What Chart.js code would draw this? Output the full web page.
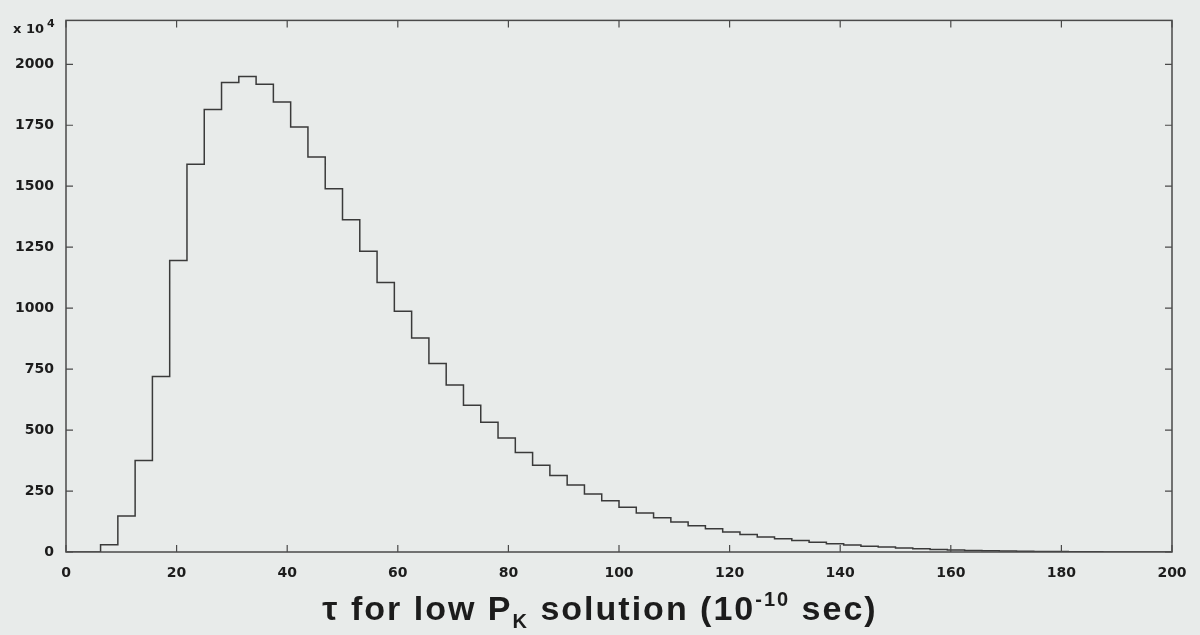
<!DOCTYPE html>
<html>
<head>
<meta charset="utf-8">
<script src="https://cdn.jsdelivr.net/npm/chart.js@4"></script>
<style>
  body { margin: 0; background: #e8ebea; font-family: "Liberation Sans", Arial, sans-serif; }
  #wrap { position: relative; width: 1200px; height: 635px; }
  #xtitle { position: absolute; left: 0; width: 1200px; top: 588px; text-align: center;
            font-weight: bold; font-size: 34px; letter-spacing: 2px; color: #1c1c1c; }
  #xtitle sub { font-size: 20px; vertical-align: -8px; }
  #xtitle sup { font-size: 20px; vertical-align: 14px; }
  #scale { position: absolute; left: 13px; top: 17px; font-family: "DejaVu Sans", sans-serif;
           font-weight: bold; font-size: 13px; color: #1c1c1c; }
  #scale sup { font-size: 11px; vertical-align: 6px; margin-left: 3px; }
</style>
</head>
<body>
<div id="wrap">
  <canvas id="histo" width="1200" height="635"></canvas>
  <div id="scale">x 10<sup>4</sup></div>
  <div id="xtitle">τ for low P<sub>K</sub> solution (10<sup>-10</sup> sec)</div>
</div>
<script>
// histogram: 64 bins over 0..200
const binWidth = 3.125;
const counts = [
  0, 0, 30, 148, 375, 720, 1195, 1590, 1815, 1925,
  1950, 1918, 1845, 1743, 1620, 1490, 1362, 1233, 1105, 987,
  878, 773, 685, 602, 532, 468, 408, 356, 314, 275,
  238, 210, 184, 160, 140, 123, 108, 95, 82, 72,
  62, 54, 47, 40, 34, 29, 24, 20, 16, 13,
  10, 8, 6, 5, 4, 3, 2, 2, 1, 1,
  0, 0, 0, 0
];
const xTicks = [0, 20, 40, 60, 80, 100, 120, 140, 160, 180, 200];
const yTicks = [0, 250, 500, 750, 1000, 1250, 1500, 1750, 2000];
const yMax = 2180;

const points = counts.map((c, i) => ({ x: i * binWidth, y: c }));
points.push({ x: counts.length * binWidth, y: 0 });

// frame + inward tick marks
const framePlugin = {
  id: 'frame',
  afterDraw(chart) {
    const { ctx, chartArea: a, scales } = chart;
    ctx.save();
    ctx.strokeStyle = '#4a4a4a';
    ctx.lineWidth = 1.5;
    ctx.strokeRect(a.left, a.top, a.right - a.left, a.bottom - a.top);
    ctx.lineWidth = 1.2;
    ctx.beginPath();
    xTicks.forEach(v => {
      const px = scales.x.getPixelForValue(v);
      ctx.moveTo(px, a.bottom); ctx.lineTo(px, a.bottom - 7);
      ctx.moveTo(px, a.top); ctx.lineTo(px, a.top + 7);
    });
    yTicks.forEach(v => {
      const py = scales.y.getPixelForValue(v);
      ctx.moveTo(a.left, py); ctx.lineTo(a.left + 7, py);
      ctx.moveTo(a.right, py); ctx.lineTo(a.right - 7, py);
    });
    ctx.stroke();
    ctx.restore();
  }
};

const tickFont = { family: '"DejaVu Sans", sans-serif', size: 14, weight: 'bold' };
const plain = v => String(v);

new Chart(document.getElementById('histo'), {
  type: 'line',
  data: {
    datasets: [{
      data: points,
      stepped: 'before',
      borderColor: '#3a3a3a',
      borderWidth: 1.5,
      pointRadius: 0,
      fill: false
    }]
  },
  options: {
    responsive: false,
    animation: false,
    layout: { padding: { top: 17, right: 28, left: 0, bottom: 0 } },
    plugins: { legend: { display: false }, tooltip: { enabled: false } },
    scales: {
      x: {
        type: 'linear', min: 0, max: 200,
        afterBuildTicks: s => { s.ticks = xTicks.map(v => ({ value: v })); },
        afterFit: s => { s.height = 83; },
        grid: { display: false, drawTicks: false },
        border: { display: false },
        ticks: { font: tickFont, color: '#1c1c1c', padding: 13, maxRotation: 0, callback: plain }
      },
      y: {
        min: 0, max: yMax,
        afterBuildTicks: s => { s.ticks = yTicks.map(v => ({ value: v })); },
        afterFit: s => { s.width = 66; },
        grid: { display: false, drawTicks: false },
        border: { display: false },
        ticks: { font: tickFont, color: '#1c1c1c', padding: 12, callback: plain }
      }
    }
  },
  plugins: [framePlugin]
});
</script>
</body>
</html>
